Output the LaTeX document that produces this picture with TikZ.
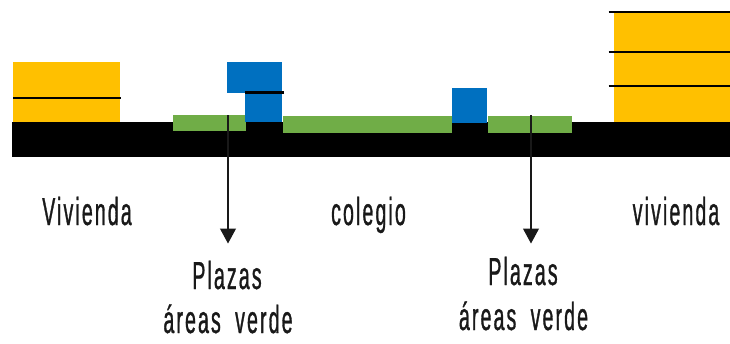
\documentclass[tikz,border=0pt]{standalone}
\usepackage{fontspec}
\usetikzlibrary{arrows.meta}
\newfontfamily\lblfont[FakeStretch=0.5,LetterSpace=5.5,WordSpace=1.9,FakeBold=0.8]{Liberation Sans}
\definecolor{yel}{HTML}{FFC000}
\definecolor{blu}{HTML}{0070C0}
\definecolor{grn}{HTML}{70AD47}
\tikzset{
  lbl/.style={anchor=base,inner sep=0pt,font=\lblfont\fontsize{39}{39}\selectfont,text=black!90},
  floorline/.style={line width=2.2pt,black},
  callout/.style={line width=1.1pt,black!90,-{Triangle[width=16pt,length=15pt]},shorten >=0pt}
}
\begin{document}
\begin{tikzpicture}[x=1pt,y=-1pt]
\useasboundingbox (0,0) rectangle (730,343);
% ground
\fill[black] (12,122.3) rectangle (730,157.3);
% housing left
\fill[yel] (13,62) rectangle (119.5,122.3);
\draw[floorline] (13,97.7) -- (120.5,97.7);
% housing right
\fill[yel] (613.7,12) rectangle (730,122.3);
\draw[floorline] (608.7,12.2) -- (730,12.2);
\draw[floorline] (608.7,51.8) -- (730,51.8);
\draw[floorline] (608.7,86.3) -- (730,86.3);
% green
\fill[grn] (172.5,114.5) rectangle (245.5,131);
\fill[grn] (283,116) rectangle (452.3,132.5);
\fill[grn] (487.7,116) rectangle (572,132.5);
% blue
\fill[blu] (227,62) rectangle (282,92.5);
\fill[blu] (245,92) rectangle (282,122.3);
\draw[floorline] (245,92.5) -- (283.5,92.5);
\fill[blu] (452.3,88) rectangle (487,123);
% labels
\node[lbl] (viv1) at (87,225) {Vivienda};
\node[lbl] (cole) at (368.5,225) {colegio};
\node[lbl] (viv2) at (676,225) {vivienda};
\node[lbl] (pla1) at (227,289) {Plazas};
\node[lbl] (are1) at (228,333) {áreas verde};
\node[lbl] (pla2) at (523,285) {Plazas};
\node[lbl] (are2) at (523.5,330) {áreas verde};
% arrows
\coordinate (a1s) at (228,115);
\coordinate (a1e) at (228,243.5);
\coordinate (a2s) at (531,115);
\coordinate (a2e) at (531,243.5);
\draw[callout] (a1s) -- (a1e);
\draw[callout] (a2s) -- (a2e);
\end{tikzpicture}
\end{document}
